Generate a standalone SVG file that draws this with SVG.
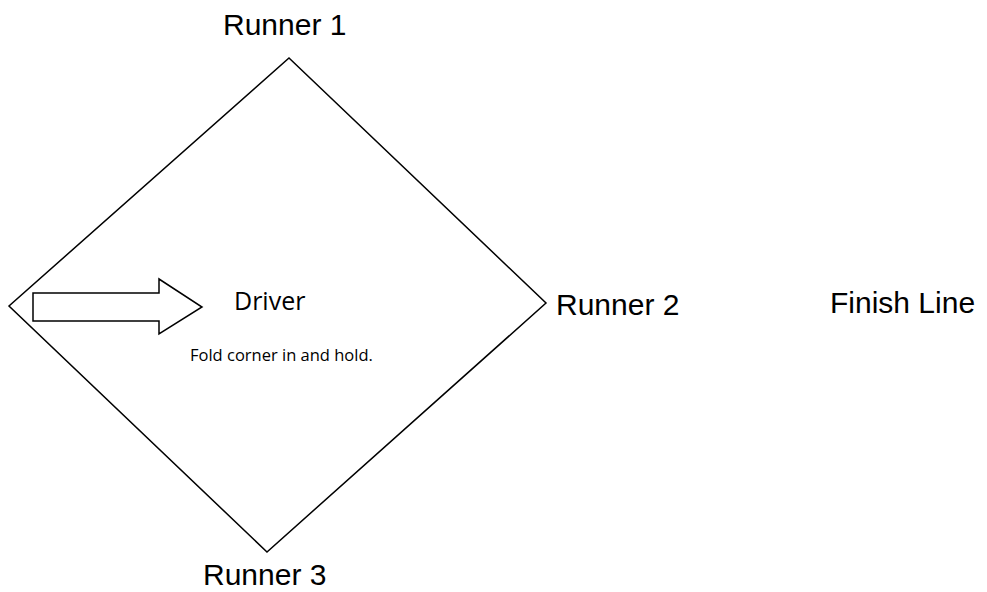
<svg xmlns="http://www.w3.org/2000/svg" width="987" height="592" viewBox="0 0 987 592">
<style>
.shape{fill:none;stroke:#000;stroke-width:1.5;stroke-linejoin:miter}
.lbl{font-family:"Liberation Sans",Arial,sans-serif;font-size:30px;fill:#000}
.sans{font-family:"Open Sans","Noto Sans",sans-serif;fill:#000}
</style>
<rect width="987" height="592" fill="#fff"/>
<g id="diamond">
<polygon class="shape" points="289,58 546,303 267,552 9,306"/>
</g>
<g id="arrow">
<polygon class="shape" points="33,293 159,293 159,279 202,307 159,334 159,321 33,321"/>
</g>
<g id="labels">
<text id="runner1" class="lbl" x="223" y="35">Runner 1</text>
<text id="runner2" class="lbl" x="556" y="315">Runner 2</text>
<text id="finish" class="lbl" x="830" y="313">Finish Line</text>
<text id="runner3" class="lbl" x="203" y="585">Runner 3</text>
<text id="driver" class="sans" x="234" y="310" font-size="25">Driver</text>
<text id="fold" class="sans" x="190" y="361" font-size="16.5">Fold corner in and hold.</text>
</g>
</svg>
